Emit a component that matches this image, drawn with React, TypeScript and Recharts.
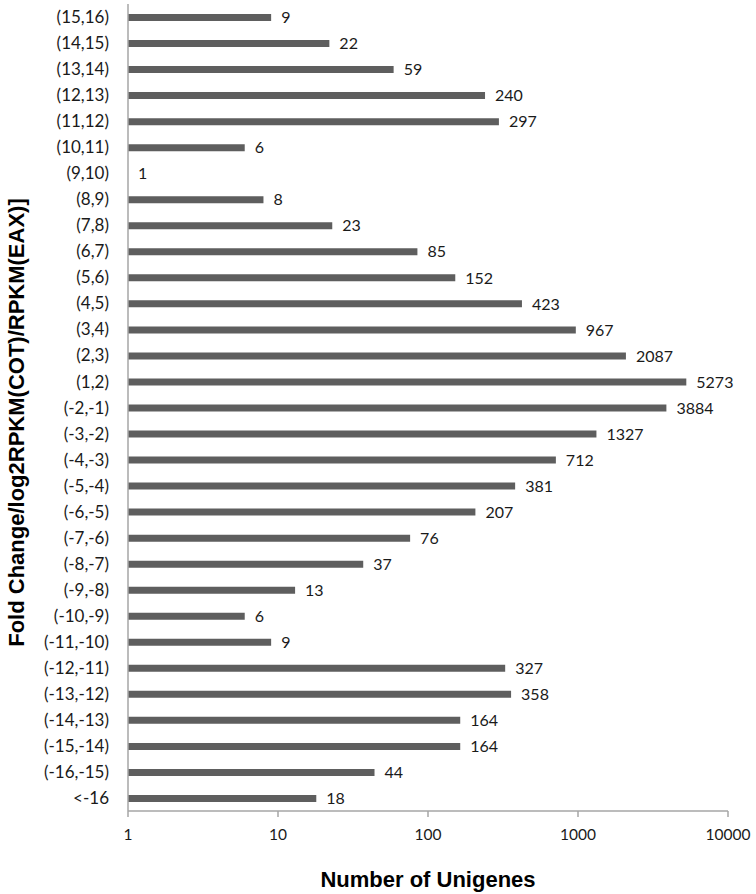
import React from 'react';
import { BarChart, Bar, XAxis, YAxis, LabelList, Label } from 'recharts';

const categories = [
  '(15,16)', '(14,15)', '(13,14)', '(12,13)', '(11,12)', '(10,11)', '(9,10)', '(8,9)',
  '(7,8)', '(6,7)', '(5,6)', '(4,5)', '(3,4)', '(2,3)', '(1,2)', '(-2,-1)', '(-3,-2)',
  '(-4,-3)', '(-5,-4)', '(-6,-5)', '(-7,-6)', '(-8,-7)', '(-9,-8)', '(-10,-9)', '(-11,-10)',
  '(-12,-11)', '(-13,-12)', '(-14,-13)', '(-15,-14)', '(-16,-15)', '<-16',
];
const unigenes = [
  9, 22, 59, 240, 297, 6, 1, 8, 23, 85, 152, 423, 967, 2087, 5273, 3884, 1327,
  712, 381, 207, 76, 37, 13, 6, 9, 327, 358, 164, 164, 44, 18,
];
const xTicks = [1, 10, 100, 1000, 10000];

const data = categories.map((c, i) => ({ range: c, count: unigenes[i] }));

const FONT = 'Lato, "Open Sans", sans-serif';
const TITLE_FONT = '"Liberation Sans", Arial, sans-serif';

const YTitle = (props: any) => {
  const vb = props.viewBox || { x: 128, y: 4, width: 0, height: 807 };
  const cx = 16;
  const cy = vb.y + vb.height / 2 + 15;
  return (
    <text
      x={cx}
      y={cy}
      transform={`rotate(-90, ${cx}, ${cy})`}
      textAnchor="middle"
      dominantBaseline="central"
      style={{ fill: '#000', fontSize: 22, fontWeight: 'bold', fontFamily: TITLE_FONT }}
    >
      Fold Change/log2RPKM(COT)/RPKM(EAX)]
    </text>
  );
};

export default function App() {
  return (
    <div style={{ position: 'absolute', left: 0, top: 0, background: '#fff' }}>
      <BarChart
        width={756}
        height={894}
        data={data}
        layout="vertical"
        margin={{ top: 4, right: 28, bottom: 53, left: 0 }}
        barCategoryGap={0}
      >
        <XAxis
          type="number"
          dataKey="count"
          scale="log"
          domain={[1, 10000]}
          ticks={xTicks}
          allowDataOverflow
          height={30}
          axisLine={{ stroke: '#a6a6a6', strokeWidth: 1.5 }}
          tickLine={{ stroke: '#a6a6a6', strokeWidth: 1.5 }}
          tickSize={6}
          tickMargin={12}
          tick={{ fill: '#1a1a1a', fontSize: 15.5, fontFamily: FONT }}
        >
          <Label
            value="Number of Unigenes"
            position="bottom"
            offset={30}
            style={{ fill: '#000', fontSize: 22, fontWeight: 'bold', fontFamily: TITLE_FONT }}
          />
        </XAxis>
        <YAxis
          type="category"
          dataKey="range"
          width={128}
          axisLine={{ stroke: '#a6a6a6', strokeWidth: 1.5 }}
          tickLine={false}
          tickSize={0}
          tickMargin={19}
          interval={0}
          tick={{ fill: '#1a1a1a', fontSize: 17, fontFamily: FONT }}
        >
          <Label content={<YTitle />} />
        </YAxis>
        <Bar dataKey="count" fill="#5e5e5e" barSize={7} minPointSize={0.01} isAnimationActive={false}>
          <LabelList
            dataKey="count"
            position="right"
            offset={10}
            style={{ fill: '#1a1a1a', fontSize: 16, fontFamily: FONT }}
          />
        </Bar>
      </BarChart>
    </div>
  );
}
